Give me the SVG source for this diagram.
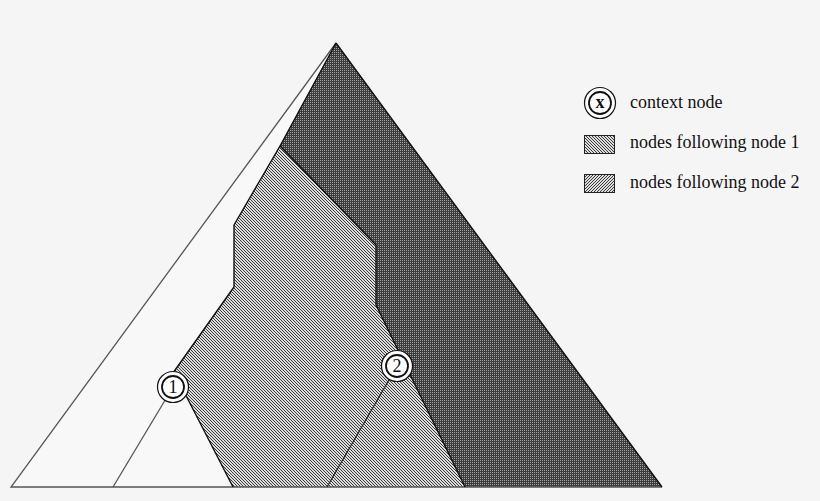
<svg xmlns="http://www.w3.org/2000/svg" width="820" height="501" viewBox="0 0 820 501">
<style>
.lbl{font-family:"Liberation Serif","Times New Roman",serif;font-size:18px;fill:#111}
.num{font-family:"Liberation Serif","Times New Roman",serif;font-size:18px;fill:#111;text-anchor:middle}
.ring{fill:#fff;stroke:#111;stroke-width:1.2}
.inner{fill:#fff;stroke:#111;stroke-width:1.8}
.edge{fill:none;stroke:#111;stroke-width:1.4;stroke-linejoin:round}
.thin{fill:none;stroke:#555;stroke-width:1.3}
</style>
<defs>
<pattern id="hatchA" width="3" height="3" patternUnits="userSpaceOnUse">
<rect width="3" height="3" fill="#dcdcdc"/>
<rect x="0" y="0" width="1" height="1" fill="#3c3c3c"/>
<rect x="1" y="1" width="1" height="1" fill="#3c3c3c"/>
<rect x="2" y="2" width="1" height="1" fill="#3c3c3c"/>
</pattern>
<pattern id="hatchB" width="3" height="3" patternUnits="userSpaceOnUse">
<rect width="3" height="3" fill="#dcdcdc"/>
<rect x="2" y="0" width="1" height="1" fill="#3c3c3c"/>
<rect x="1" y="1" width="1" height="1" fill="#3c3c3c"/>
<rect x="0" y="2" width="1" height="1" fill="#3c3c3c"/>
</pattern>
<pattern id="cross" width="2" height="2" patternUnits="userSpaceOnUse">
<rect width="2" height="2" fill="#3c3c3c"/>
<rect x="0" y="0" width="1" height="1" fill="#a4a4a4"/>
</pattern>
</defs>
<rect width="820" height="501" fill="#f5f5f5"/>
<g id="tree">
<polygon points="336,43 662,487 11,487" fill="#f8f8f8"/>
<polygon id="following-both" points="336,43 662,487 465,487 376,305 376,245 280,146" fill="url(#cross)" shape-rendering="crispEdges"/>
<polygon id="following-1" points="280,146 376,245 376,305 465,487 233,487 178,380 168,380 234,287 234,225" fill="url(#hatchA)" shape-rendering="crispEdges"/>
<polyline class="thin" points="336,43 11,487 662,487"/>
<polyline class="edge" points="336,43 662,487"/>
<polyline class="edge" points="336,43 280,146 376,245 376,305 465,487"/>
<polyline class="edge" points="280,146 234,225 234,287 168,380"/>
<polyline class="edge" points="178,380 233,487"/>
</g>
<g id="connectors">
<line class="thin" x1="173" y1="387" x2="113" y2="487"/>
<line x1="397" y1="366" x2="327" y2="487" stroke="#222" stroke-width="1.2"/>
</g>
<g id="node1">
<circle class="ring" cx="173" cy="387" r="15.5"/>
<circle class="inner" cx="173" cy="387" r="11"/>
<text class="num" x="173" y="393">1</text>
</g>
<g id="node2">
<circle class="ring" cx="397" cy="366" r="15.5"/>
<circle class="inner" cx="397" cy="366" r="11"/>
<text class="num" x="397" y="372">2</text>
</g>
<g id="legend-context">
<circle class="ring" cx="600" cy="103" r="15.5"/>
<circle class="inner" cx="600" cy="103" r="11"/>
<text class="num" x="600" y="108" font-weight="bold">x</text>
<text class="lbl" x="630" y="108">context node</text>
</g>
<g id="legend-following1">
<rect x="584.5" y="135.5" width="30" height="18" fill="url(#hatchA)" stroke="#222" stroke-width="1"/>
<text class="lbl" x="630" y="148">nodes following node 1</text>
</g>
<g id="legend-following2">
<rect x="584.5" y="174.5" width="30" height="18" fill="url(#hatchB)" stroke="#222" stroke-width="1"/>
<text class="lbl" x="630" y="188">nodes following node 2</text>
</g>
</svg>
